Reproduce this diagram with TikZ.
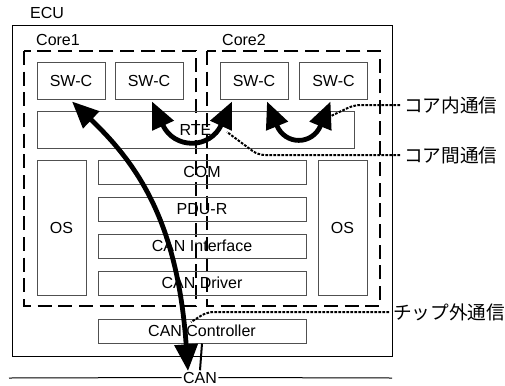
\documentclass[tikz,border=0pt]{standalone}
\usepackage{fontspec}
\setmainfont{Liberation Sans}
\newfontfamily\jpfont{Noto Sans CJK JP}
\usepackage{tikz}
\usetikzlibrary{arrows.meta,calc}
\definecolor{boxgray}{RGB}{80,80,80}

\begin{document}
\begin{tikzpicture}[x=0.75pt, y=-0.75pt,
        box/.style={rectangle, draw=boxgray, line width=0.75pt, minimum width=51pt, minimum height=27.75pt, inner sep=0pt, font=\fontsize{12}{14}\selectfont},
        layer/.style={box, minimum width=156pt, minimum height=18pt},
        osbox/.style={box, minimum width=36.75pt, minimum height=101.25pt},
        core/.style={line width=2.2pt, dash pattern=on 10.5pt off 5pt},
        frame/.style={draw=black, line width=0.75pt},
        comm/.style={<->, >={Triangle[length=20pt,width=17pt]}, line width=3.6pt},
        note/.style={line width=1.5pt, dash pattern=on 2pt off 1pt, rounded corners=5pt},
        lbl/.style={font=\fontsize{12}{14}\selectfont},
        jplabel/.style={anchor=west, inner sep=3pt, font=\jpfont\fontsize{14}{16}\selectfont}
    ]
    \useasboundingbox (0,0) rectangle (505,385);
    \node[lbl] (ecu) at (47,13) {ECU};
    \draw[frame] (12,26) rectangle (392,356);
    \node[lbl] (core1) at (58,40) {Core1};
    \node[lbl] (core2) at (244,40) {Core2};
    \draw[core] (24,51) rectangle (196,306);
    \draw[core] (207,51) rectangle (380,306);
    \node[box] (swc1) at (71,80.5) {SW-C};
    \node[box] (swc2) at (149,80.5) {SW-C};
    \node[box] (swc3) at (254,80.5) {SW-C};
    \node[box] (swc4) at (333.5,80.5) {SW-C};
    \node[box, minimum width=237.75pt] (rte) at (195.5,129.5) {RTE};
    \node[osbox] (os1) at (61.5,227.5) {OS};
    \node[osbox] (os2) at (342.5,227.5) {OS};
    \node[layer] (com) at (202,172) {COM};
    \node[layer] (pdur) at (202,209) {PDU-R};
    \node[layer] (canif) at (202,246) {CAN Interface};
    \node[layer] (candrv) at (202,283) {CAN Driver};
    \node[layer] (ctrl) at (202,331) {CAN Controller};
    \node[lbl, inner sep=1pt] (can) at (200,377.5) {CAN};
    \coordinate (busl) at (9,378);
    \coordinate (busr) at (392,378);
    \draw[frame] (busl) -- (can.west);
    \draw[frame] (can.east) -- (busr);
    \draw[frame, line width=1.5pt] (ctrl.south) -- (can.north);
    \coordinate (cantip) at (188,371);
    \draw[comm] ($(swc1.south)+(1,2)$) .. controls +(65,62) and +(-10.5,-150) .. (cantip);
    \draw[comm] ($(swc2.south)+(3,2)$) .. controls +(22,48) and +(-22,48) .. ($(swc3.south)+(-22,2)$);
    \draw[comm] ($(swc3.south)+(13,2)$) .. controls +(18,44) and +(-18,44) .. ($(swc4.south)+(-3,2)$);
    \node[jplabel] (intra) at (400,105) {コア内通信};
    \node[jplabel] (inter) at (400,155) {コア間通信};
    \node[jplabel] (extc) at (389,312) {チップ外通信};
    \coordinate (intrapt) at (331,116);
    \coordinate (interpt) at (227,132);
    \coordinate (extpt) at (191,322);
    \draw[note] (intra.west) -- (354,105) -- (intrapt);
    \draw[note] (inter.west) -- (258,155) -- (interpt);
    \draw[note] (extc.west) -- (207,312) -- (extpt);
\end{tikzpicture}
\end{document}
